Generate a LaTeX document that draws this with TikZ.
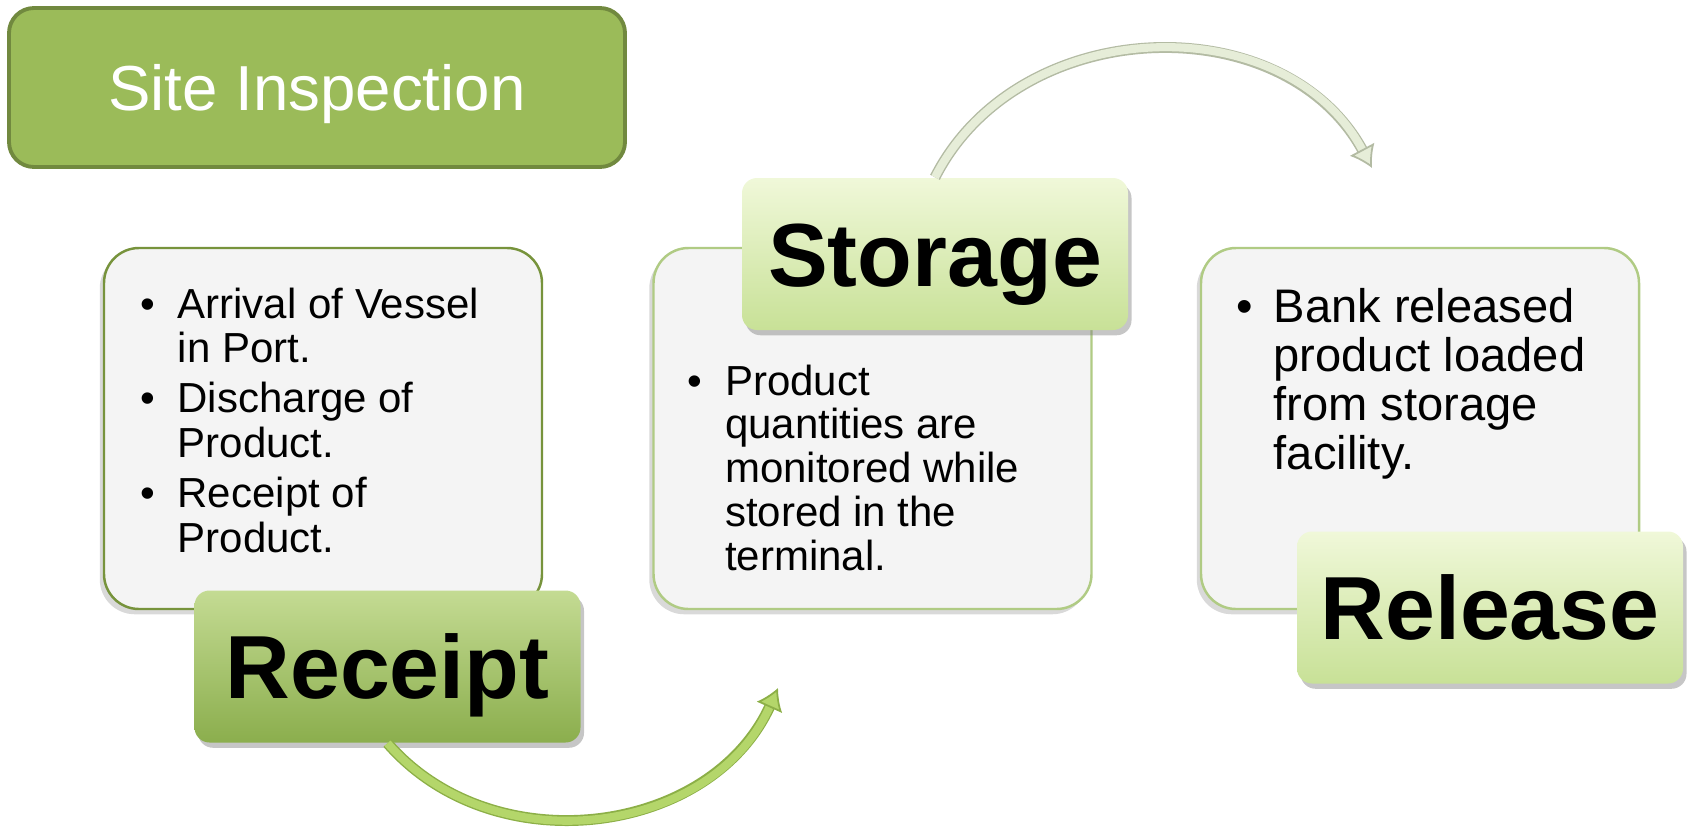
\documentclass[tikz,border=0pt]{standalone}
\usepackage{fontspec}
\setmainfont{Liberation Sans}
\usetikzlibrary{arrows.meta, shadows}
\definecolor{titlegreen}{HTML}{9BBB59}
\definecolor{titleedge}{HTML}{71893F}
\definecolor{boxgray}{HTML}{F4F4F4}
\definecolor{boxedge}{HTML}{77933C}
\definecolor{boxedgelight}{HTML}{B0CB84}
\definecolor{darktop}{HTML}{C4DB93}
\definecolor{darkbottom}{HTML}{8BAE4D}
\definecolor{lighttop}{HTML}{F0F8D9}
\definecolor{lightbottom}{HTML}{C8E197}
\definecolor{arrowgreen}{HTML}{B4D66A}
\definecolor{arrowgreenedge}{HTML}{8CAF47}
\definecolor{arrowpale}{HTML}{E6EDD8}
\definecolor{arrowpaleedge}{HTML}{B3BBA3}

\begin{document}
\begin{tikzpicture}[
    headbox/.style={
        rectangle,
        rounded corners=0.25cm,
        draw=titleedge,
        fill=titlegreen,
        line width=1.1pt,
        minimum width=6.16cm,
        minimum height=1.59cm,
        text=white,
        font=\fontsize{18.1pt}{21pt}\selectfont,
        text height=13pt,
        text depth=0pt
    },
    infobox/.style={
        rectangle,
        rounded corners=0.35cm,
        draw=boxedgelight,
        fill=boxgray,
        line width=0.7pt,
        minimum width=4.38cm,
        minimum height=3.61cm,
        drop shadow={shadow xshift=-1.2pt, shadow yshift=-1.5pt, opacity=0.3, fill=black!50}
    },
    stagebox/.style={
        rectangle,
        rounded corners=0.15cm,
        minimum width=3.86cm,
        minimum height=1.52cm,
        top color=lighttop,
        bottom color=lightbottom,
        font=\bfseries\fontsize{25.5pt}{30pt}\selectfont,
        text height=18.3pt,
        text depth=0pt,
        drop shadow={shadow xshift=1pt, shadow yshift=-1.5pt, opacity=0.45}
    },
    stagedark/.style={stagebox, top color=darktop, bottom color=darkbottom},
    bodytxt/.style={inner sep=0pt, anchor=base west, font=\fontsize{11.95pt}{12.8pt}\selectfont},
    cyclearrow/.style={
        line width=2.3pt,
        draw=arrowgreen,
        preaction={draw=arrowgreenedge, line width=3.1pt, arrows=-, shorten >=5pt},
        -{Latex[length=6pt, width=8pt, color=arrowgreenedge, fill=arrowgreen, line width=0.5pt]}
    },
    palearrow/.style={
        line width=2.3pt,
        draw=arrowpale,
        preaction={draw=arrowpaleedge, line width=3.1pt, arrows=-, shorten >=5pt},
        -{Latex[length=6pt, width=8pt, color=arrowpaleedge, fill=arrowpale, line width=0.5pt]}
    }
]
\useasboundingbox (0,0) rectangle (16.89,8.39);

\node[headbox] (title) at (3.17,7.515) {Site Inspection};

\node[infobox, draw=boxedge] (receipt) at (3.23,4.105) {};
\node[infobox] (storage) at (8.725,4.105) {};
\node[infobox] (release) at (14.20,4.105) {};

\node[bodytxt] (receipttxt) at (1.395,5.21) {%
\begin{tabular}[t]{@{}p{0.375cm}@{}l@{}}
\textbullet & Arrival of Vessel\\
 & in Port.\\[1.4pt]
\textbullet & Discharge of\\
 & Product.\\[1.4pt]
\textbullet & Receipt of\\
 & Product.
\end{tabular}};
\node[bodytxt, font=\fontsize{11.95pt}{12.5pt}\selectfont] (storagetxt) at (6.87,4.44) {%
\begin{tabular}[t]{@{}p{0.375cm}@{}l@{}}
\textbullet & Product\\
 & quantities are\\
 & monitored while\\
 & stored in the\\
 & terminal.
\end{tabular}};
\node[bodytxt, font=\fontsize{13.4pt}{13.95pt}\selectfont] (releasetxt) at (12.355,5.17) {%
\begin{tabular}[t]{@{}p{0.375cm}@{}l@{}}
\textbullet & Bank released\\
 & product loaded\\
 & from storage\\
 & facility.
\end{tabular}};

\node[stagedark] (receiptlbl) at (3.875,1.725) {Receipt};
\node[stagebox] (storagelbl) at (9.35,5.85) {Storage};
\node[stagebox] (releaselbl) at (14.90,2.315) {Release};

\coordinate (tipa) at (7.78,1.51);
\coordinate (tipb) at (13.72,6.71);

\draw[cyclearrow] (receiptlbl.south) to[out=-49, in=246, looseness=1.05] (tipa);
\draw[palearrow] (storagelbl.north) to[out=63, in=118, looseness=1.08] (tipb);

\end{tikzpicture}
\end{document}
